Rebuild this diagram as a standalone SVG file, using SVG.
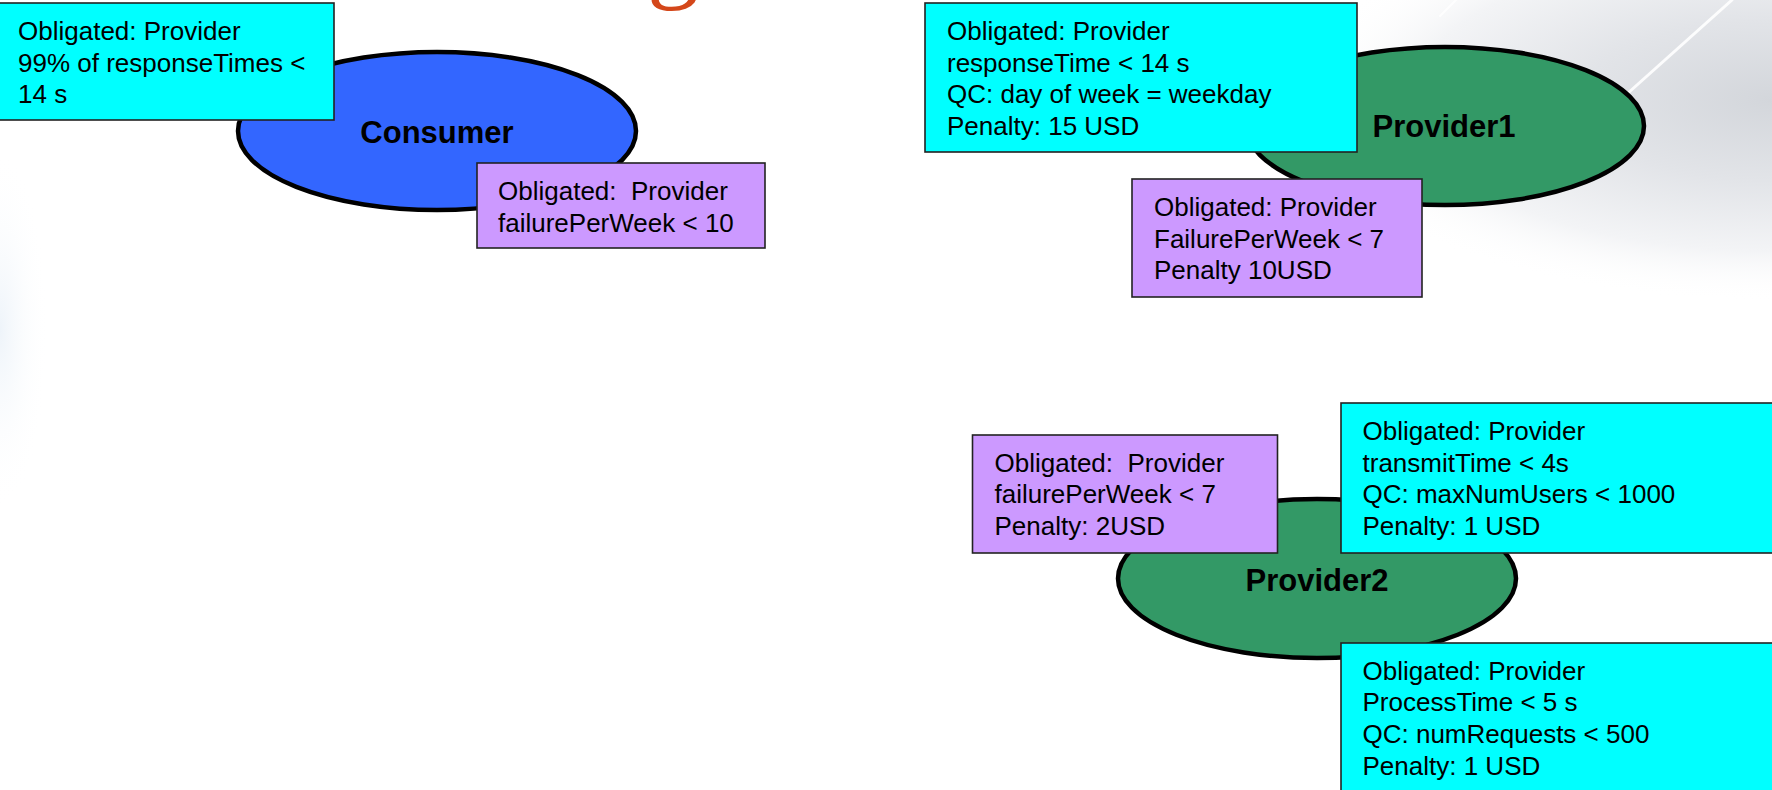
<svg xmlns="http://www.w3.org/2000/svg" width="1772" height="790" viewBox="0 0 1772 790">
  <defs>
    <radialGradient id="sheen" cx="1772" cy="100" r="480" gradientUnits="userSpaceOnUse" gradientTransform="translate(1772 100) scale(1 0.42) translate(-1772 -100)">
      <stop offset="0" stop-color="#d3d6db"/>
      <stop offset="0.4" stop-color="#e2e4e8"/>
      <stop offset="0.75" stop-color="#f3f4f6"/>
      <stop offset="1" stop-color="#ffffff" stop-opacity="0"/>
    </radialGradient>
    <radialGradient id="haze" cx="0" cy="330" r="120" gradientUnits="userSpaceOnUse" gradientTransform="translate(0 330) scale(0.4 1.5) translate(0 -330)">
      <stop offset="0" stop-color="#eef4fa"/>
      <stop offset="1" stop-color="#ffffff" stop-opacity="0"/>
    </radialGradient>
    <style>
      .cyan { fill: #00ffff; stroke: #222222; stroke-width: 1.6; }
      .lilac { fill: #cc99ff; stroke: #222222; stroke-width: 1.6; }
      .oval { stroke: #000000; stroke-width: 4.5; }
      .blue { fill: #3366ff; }
      .green { fill: #339966; }
      .txt { font-family: "Liberation Sans", Arial, sans-serif; font-size: 26px; fill: #000000; }
      .lbl { font-family: "Liberation Sans", Arial, sans-serif; font-size: 31px; font-weight: bold; fill: #000000; text-anchor: middle; }
      .streak { stroke: #ffffff; stroke-linecap: round; fill: none; }
    </style>
  </defs>

  <!-- page background -->
  <rect x="0" y="0" width="1772" height="790" fill="#ffffff"/>
  <rect x="1200" y="0" width="572" height="310" fill="url(#sheen)"/>
  <rect x="0" y="130" width="80" height="400" fill="url(#haze)"/>
  <line class="streak" x1="1618" y1="102" x2="1732" y2="0" stroke-width="3" stroke-opacity="0.9"/>
  <line class="streak" x1="1440" y1="16" x2="1456" y2="0" stroke-width="2" stroke-opacity="0.8"/>

  <!-- clipped title glyph at the top edge -->
  <text x="647" y="-12" font-family="Liberation Serif, 'Times New Roman', serif" font-size="105" fill="#d4471a">g</text>

  <g id="connectors"/>

  <!-- parties -->
  <g id="consumer">
    <ellipse class="oval blue" cx="437" cy="131" rx="199" ry="79"/>
    <text class="lbl" x="437" y="143">Consumer</text>
  </g>
  <g id="provider1">
    <ellipse class="oval green" cx="1445" cy="126" rx="199" ry="79"/>
    <text class="lbl" x="1444" y="137">Provider1</text>
  </g>
  <g id="provider2">
    <ellipse class="oval green" cx="1317" cy="578.5" rx="199" ry="79.5"/>
    <text class="lbl" x="1317" y="591">Provider2</text>
  </g>

  <!-- obligations -->
  <g id="consumer-response">
    <rect class="cyan" x="-3" y="3" width="337" height="117"/>
    <text class="txt" x="18" y="40">Obligated: Provider</text>
    <text class="txt" x="18" y="71.7">99% of responseTimes &lt;</text>
    <text class="txt" x="18" y="103.4">14 s</text>
  </g>
  <g id="consumer-failure">
    <rect class="lilac" x="477" y="163" width="288" height="85"/>
    <text class="txt" x="498" y="200">Obligated:&#160; Provider</text>
    <text class="txt" x="498" y="231.7">failurePerWeek &lt; 10</text>
  </g>
  <g id="provider1-response">
    <rect class="cyan" x="925" y="3" width="432" height="149"/>
    <text class="txt" x="947" y="40">Obligated: Provider</text>
    <text class="txt" x="947" y="71.7">responseTime &lt; 14 s</text>
    <text class="txt" x="947" y="103.4">QC: day of week = weekday</text>
    <text class="txt" x="947" y="135.1">Penalty: 15 USD</text>
  </g>
  <g id="provider1-failure">
    <rect class="lilac" x="1132" y="179" width="290" height="118"/>
    <text class="txt" x="1154" y="216">Obligated: Provider</text>
    <text class="txt" x="1154" y="247.7">FailurePerWeek &lt; 7</text>
    <text class="txt" x="1154" y="279.4">Penalty 10USD</text>
  </g>
  <g id="provider2-failure">
    <rect class="lilac" x="972.5" y="435" width="305" height="118"/>
    <text class="txt" x="994.5" y="471.5">Obligated:&#160; Provider</text>
    <text class="txt" x="994.5" y="503.2">failurePerWeek &lt; 7</text>
    <text class="txt" x="994.5" y="534.9">Penalty: 2USD</text>
  </g>
  <g id="provider2-transmit">
    <rect class="cyan" x="1341" y="403" width="460" height="150"/>
    <text class="txt" x="1362.5" y="440">Obligated: Provider</text>
    <text class="txt" x="1362.5" y="471.7">transmitTime &lt; 4s</text>
    <text class="txt" x="1362.5" y="503.4">QC: maxNumUsers &lt; 1000</text>
    <text class="txt" x="1362.5" y="535.1">Penalty: 1 USD</text>
  </g>
  <g id="provider2-process">
    <rect class="cyan" x="1341" y="643" width="460" height="170"/>
    <text class="txt" x="1362.5" y="679.5">Obligated: Provider</text>
    <text class="txt" x="1362.5" y="711.2">ProcessTime &lt; 5 s</text>
    <text class="txt" x="1362.5" y="742.9">QC: numRequests &lt; 500</text>
    <text class="txt" x="1362.5" y="774.6">Penalty: 1 USD</text>
  </g>
</svg>
